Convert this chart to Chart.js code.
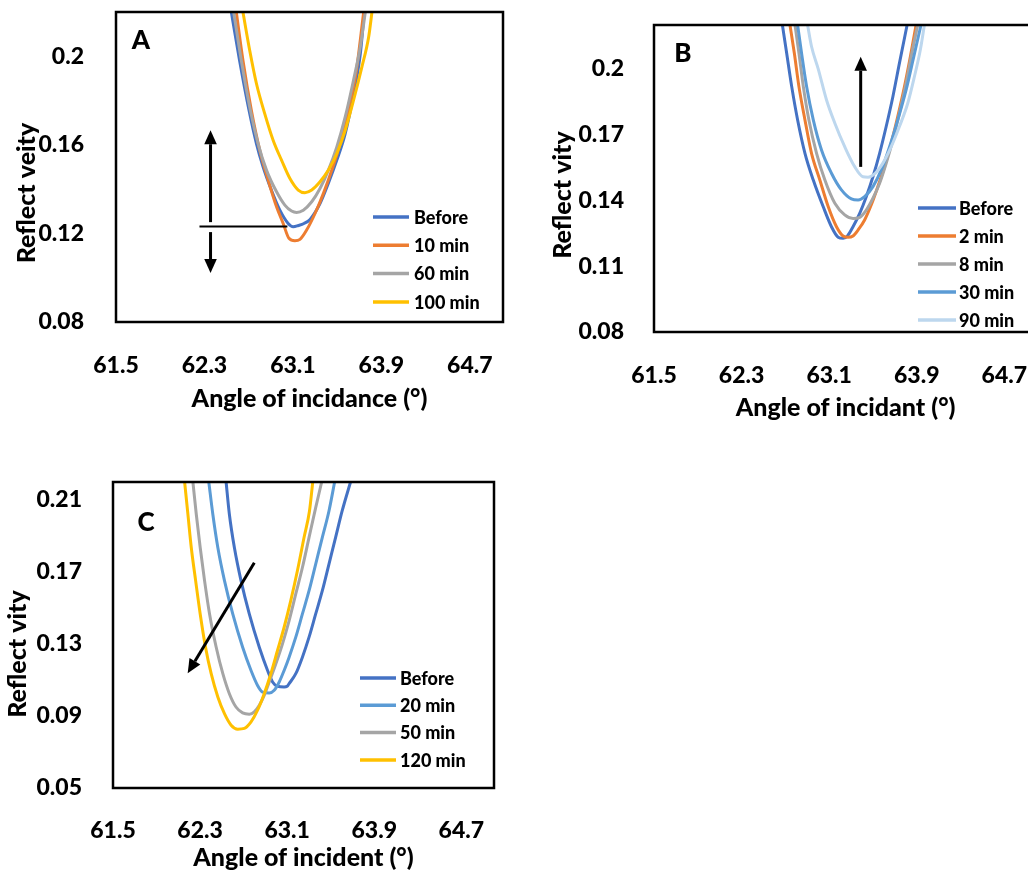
<!DOCTYPE html>
<html>
<head>
<meta charset="utf-8">
<title>Reflectivity vs angle</title>
<script src="https://cdn.jsdelivr.net/npm/chart.js@4.4.1/dist/chart.umd.min.js"></script>
<style>
  html, body { margin: 0; padding: 0; background: #fff; overflow: hidden; width: 1028px; height: 873px; }
  canvas { position: absolute; }
  #chartA { left: 0; top: 0; }
  #chartB { left: 540px; top: 0; }
  #chartC { left: 0; top: 460px; }
</style>
</head>
<body>
<canvas id="chartA" width="520" height="430"></canvas>
<canvas id="chartB" width="510" height="440"></canvas>
<canvas id="chartC" width="520" height="413"></canvas>
<script>
// axis ticks
const angleTicks = [61.5, 62.3, 63.1, 63.9, 64.7];
const reflTicksA = [0.08, 0.12, 0.16, 0.2];
const reflTicksB = [0.08, 0.11, 0.14, 0.17, 0.2];
const reflTicksC = [0.05, 0.09, 0.13, 0.17, 0.21];

// series names
const labelsA = ["Before", "10 min", "60 min", "100 min"];
const labelsB = ["Before", "2 min", "8 min", "30 min", "90 min"];
const labelsC = ["Before", "20 min", "50 min", "120 min"];

// [angle (deg), reflectivity]
const A_before = [[62.543,0.22],[62.618,0.198],[62.703,0.1756],[62.77,0.1606],[62.83,0.1501],[62.906,0.1395],[62.982,0.1305],[63.057,0.1245],[63.103,0.123],[63.15,0.1236],[63.2,0.1245],[63.255,0.1263],[63.345,0.1335],[63.42,0.1426],[63.497,0.1531],[63.573,0.1651],[63.65,0.1832],[63.71,0.2012],[63.745,0.22]];
const A_10min = [[62.588,0.22],[62.648,0.1982],[62.724,0.1756],[62.8,0.1576],[62.876,0.1441],[62.952,0.132],[63.012,0.1245],[63.064,0.1178],[63.118,0.1167],[63.164,0.1173],[63.224,0.1215],[63.3,0.129],[63.376,0.1381],[63.452,0.1486],[63.527,0.1606],[63.6,0.1756],[63.67,0.1922],[63.74,0.22]];
const A_60min = [[62.564,0.22],[62.633,0.1982],[62.715,0.1756],[62.785,0.1606],[62.861,0.1486],[62.952,0.1388],[63.027,0.1328],[63.088,0.1301],[63.133,0.1295],[63.194,0.1305],[63.27,0.1343],[63.345,0.1403],[63.421,0.1486],[63.497,0.1591],[63.573,0.1726],[63.648,0.1892],[63.709,0.2042],[63.755,0.22]];
const A_100min = [[62.648,0.22],[62.709,0.2027],[62.77,0.1877],[62.845,0.1741],[62.921,0.1621],[62.997,0.1531],[63.073,0.1448],[63.148,0.1396],[63.209,0.1384],[63.27,0.1396],[63.345,0.1433],[63.421,0.1486],[63.497,0.1561],[63.573,0.1666],[63.648,0.1801],[63.724,0.1952],[63.785,0.2087],[63.815,0.22]];

const B_before = [[62.673,0.22],[62.712,0.2071],[62.758,0.1919],[62.812,0.1767],[62.879,0.1615],[62.955,0.1493],[63.045,0.1372],[63.121,0.128],[63.182,0.1232],[63.227,0.1227],[63.267,0.1238],[63.318,0.128],[63.379,0.1341],[63.439,0.1417],[63.5,0.1508],[63.561,0.1615],[63.621,0.1737],[63.682,0.1873],[63.742,0.2026],[63.812,0.22]];
const B_2min = [[62.742,0.22],[62.782,0.2071],[62.824,0.1919],[62.879,0.1767],[62.939,0.1615],[63.015,0.1493],[63.091,0.1372],[63.167,0.128],[63.227,0.1238],[63.273,0.1232],[63.318,0.1238],[63.364,0.1265],[63.424,0.1311],[63.485,0.138],[63.545,0.1463],[63.606,0.1555],[63.667,0.1661],[63.727,0.1783],[63.788,0.1919],[63.842,0.2056],[63.894,0.22]];
const B_8min = [[62.788,0.22],[62.824,0.2071],[62.864,0.1919],[62.915,0.1767],[62.985,0.1615],[63.061,0.1493],[63.152,0.1387],[63.242,0.1334],[63.318,0.1318],[63.379,0.1323],[63.439,0.1356],[63.5,0.141],[63.561,0.1478],[63.621,0.1569],[63.682,0.1676],[63.742,0.1798],[63.803,0.1935],[63.855,0.2071],[63.909,0.22]];
const B_30min = [[62.812,0.22],[62.848,0.2071],[62.894,0.1919],[62.955,0.1767],[63.03,0.163],[63.121,0.1524],[63.212,0.1448],[63.303,0.1407],[63.364,0.1402],[63.424,0.1417],[63.5,0.1463],[63.576,0.1539],[63.652,0.1645],[63.727,0.1767],[63.803,0.1904],[63.873,0.2056],[63.939,0.22]];
const B_90min = [[62.903,0.22],[62.939,0.2102],[63.0,0.2],[63.076,0.1858],[63.152,0.1752],[63.242,0.1645],[63.333,0.1554],[63.409,0.1508],[63.455,0.1506],[63.515,0.1521],[63.591,0.157],[63.667,0.1645],[63.742,0.1737],[63.818,0.1843],[63.879,0.1965],[63.933,0.2087],[63.97,0.22]];

const C_before = [[62.539,0.22],[62.569,0.2021],[62.615,0.1836],[62.676,0.1652],[62.752,0.1467],[62.844,0.1282],[62.92,0.1153],[62.966,0.1089],[63.011,0.1065],[63.072,0.1061],[63.1,0.1065],[63.118,0.108],[63.179,0.1135],[63.24,0.1227],[63.301,0.1338],[63.362,0.1467],[63.423,0.1596],[63.484,0.1744],[63.545,0.1892],[63.605,0.2039],[63.682,0.22]];
const C_20min = [[62.38,0.22],[62.417,0.2021],[62.463,0.1836],[62.524,0.1652],[62.6,0.1467],[62.691,0.1282],[62.768,0.1153],[62.828,0.107],[62.874,0.1033],[62.935,0.1028],[62.981,0.1043],[63.027,0.1089],[63.072,0.1153],[63.118,0.1227],[63.179,0.1338],[63.24,0.1467],[63.301,0.1596],[63.362,0.1744],[63.423,0.1892],[63.484,0.2039],[63.536,0.22]];
const C_50min = [[62.234,0.22],[62.265,0.2021],[62.301,0.1836],[62.341,0.1652],[62.387,0.1467],[62.448,0.1282],[62.509,0.1135],[62.569,0.1024],[62.63,0.095],[62.691,0.0917],[62.752,0.091],[62.798,0.0923],[62.844,0.096],[62.889,0.1015],[62.935,0.1089],[62.996,0.119],[63.057,0.1301],[63.118,0.143],[63.179,0.1578],[63.24,0.1725],[63.301,0.1892],[63.362,0.2058],[63.417,0.22]];
const C_120min = [[62.158,0.22],[62.188,0.2021],[62.219,0.1836],[62.259,0.1652],[62.301,0.1467],[62.35,0.1282],[62.402,0.1135],[62.463,0.1006],[62.524,0.0913],[62.585,0.0849],[62.646,0.0827],[62.707,0.0831],[62.768,0.0867],[62.828,0.0932],[62.889,0.1024],[62.95,0.1135],[63.011,0.1264],[63.072,0.1393],[63.133,0.1541],[63.194,0.1707],[63.255,0.1892],[63.305,0.2039],[63.335,0.22]];

// arrows in data units: [x1, y1, x2, y2], head at the second point
const arrowsA = [[62.355, 0.1251, 62.355, 0.1666], [62.355, 0.1206, 62.355, 0.1021]];
const markLineA = [62.255, 0.1231, 63.05, 0.1231];
const arrowsB = [[63.388, 0.1553, 63.388, 0.2055]];
const arrowsC = [[62.798, 0.1751, 62.186, 0.1137]];

Chart.defaults.font.family = "Lato, 'Open Sans', sans-serif";
Chart.defaults.font.weight = "900";
Chart.defaults.color = "#000";

function drawArrow(ctx, x1, y1, x2, y2, head) {
    const a = Math.atan2(y2 - y1, x2 - x1);
    const bx = x2 - head * Math.cos(a), by = y2 - head * Math.sin(a);
    const w = head * 0.45;
    ctx.beginPath();
    ctx.moveTo(x1, y1);
    ctx.lineTo(bx, by);
    ctx.stroke();
    ctx.beginPath();
    ctx.moveTo(x2, y2);
    ctx.lineTo(bx + w * Math.sin(a), by - w * Math.cos(a));
    ctx.lineTo(bx - w * Math.sin(a), by + w * Math.cos(a));
    ctx.closePath();
    ctx.fill();
}

// frame, panel letter, y title, arrows and the in-plot legend
const panelDecor = {
    id: "panelDecor",
    afterDraw(chart, args, o) {
        const { ctx, chartArea: ca, scales } = chart;
        const px = v => scales.x.getPixelForValue(v);
        const py = v => scales.y.getPixelForValue(v);
        ctx.save();

        ctx.strokeStyle = "#000";
        ctx.lineWidth = 2.5;
        ctx.strokeRect(ca.left, ca.top, ca.right - ca.left, ca.bottom - ca.top);

        ctx.fillStyle = "#000";
        ctx.textAlign = "center";
        ctx.textBaseline = "middle";
        ctx.font = "900 26px Lato";
        ctx.fillText(o.letter, o.letterPos[0], o.letterPos[1]);

        ctx.save();
        ctx.translate(o.yTitlePos[0], o.yTitlePos[1]);
        ctx.rotate(-Math.PI / 2);
        ctx.font = "900 25px Lato";
        ctx.fillText(o.yTitle, 0, 0);
        ctx.restore();

        ctx.lineWidth = 3;
        (o.arrows || []).forEach(a => drawArrow(ctx, px(a[0]), py(a[1]), px(a[2]), py(a[3]), 14));
        if (o.markLine) {
            const m = o.markLine;
            ctx.lineWidth = 2;
            ctx.beginPath();
            ctx.moveTo(px(m[0]), py(m[1]));
            ctx.lineTo(px(m[2]), py(m[3]));
            ctx.stroke();
        }

        const lg = o.legend;
        ctx.textAlign = "left";
        ctx.font = "900 18px Lato";
        chart.data.datasets.forEach((ds, i) => {
            const y = lg.top + i * lg.step;
            ctx.strokeStyle = ds.borderColor;
            ctx.lineWidth = 3.5;
            ctx.beginPath();
            ctx.moveTo(lg.x1, y);
            ctx.lineTo(lg.x2, y);
            ctx.stroke();
            ctx.fillStyle = "#000";
            ctx.fillText(ds.label, lg.tx, y + 1);
        });
        ctx.restore();
    }
};

function makePanel(id, p) {
    const n = p.series.length;
    new Chart(document.getElementById(id), {
        type: "line",
        data: {
            datasets: p.series.map((pts, i) => ({
                label: p.labels[i],
                data: pts.map(d => ({ x: d[0], y: d[1] })),
                borderColor: p.colors[i],
                backgroundColor: p.colors[i],
                borderWidth: 3,
                pointRadius: 0,
                fill: false,
                cubicInterpolationMode: "monotone",
                order: n - i
            }))
        },
        options: {
            responsive: false,
            animation: false,
            events: [],
            layout: { padding: p.padding },
            plugins: {
                legend: { display: false },
                tooltip: { enabled: false },
                panelDecor: p.decor
            },
            scales: {
                x: {
                    type: "linear",
                    min: 61.5,
                    max: 65,
                    afterBuildTicks: s => { s.ticks = angleTicks.map(v => ({ value: v })); },
                    afterFit: s => { s.height = p.xHeight; },
                    grid: { display: false },
                    border: { display: false },
                    ticks: { padding: p.xTickPad, font: { size: 23 }, callback: v => v.toFixed(1) },
                    title: { display: true, text: p.xTitle, font: { size: 25 }, padding: { top: 0, bottom: p.xTitlePad } }
                },
                y: {
                    min: p.yMin,
                    max: 0.22,
                    afterBuildTicks: s => { s.ticks = p.yTicks.map(v => ({ value: v })); },
                    afterFit: s => { s.width = p.yWidth; s.paddingTop = 0; s.paddingBottom = 0; },
                    grid: { display: false },
                    border: { display: false },
                    ticks: { padding: p.yTickPad, font: { size: 23 }, callback: v => String(v) }
                }
            }
        },
        plugins: [panelDecor]
    });
}

makePanel("chartA", {
    series: [A_before, A_10min, A_60min, A_100min],
    labels: labelsA,
    colors: ["#4472C4", "#ED7D31", "#A5A5A5", "#FFC000"],
    yMin: 0.08, yTicks: reflTicksA,
    padding: { top: 12, right: 17, left: 0, bottom: 0 },
    yWidth: 116, xHeight: 108, xTickPad: 22, yTickPad: 24, xTitlePad: 16,
    xTitle: "Angle of incidance (°)",
    decor: {
        letter: "A", letterPos: [141, 41],
        yTitle: "Reflect veity", yTitlePos: [27, 193],
        arrows: arrowsA, markLine: markLineA,
        legend: { x1: 373, x2: 409, tx: 414, top: 217, step: 28.3 }
    }
});

makePanel("chartB", {
    series: [B_before, B_2min, B_8min, B_30min, B_90min],
    labels: labelsB,
    colors: ["#4472C4", "#ED7D31", "#A5A5A5", "#5B9BD5", "#BDD7EE"],
    yMin: 0.08, yTicks: reflTicksB,
    padding: { top: 25, right: 11, left: 0, bottom: 0 },
    yWidth: 114, xHeight: 108, xTickPad: 22, yTickPad: 22, xTitlePad: 17,
    xTitle: "Angle of incidant (°)",
    decor: {
        letter: "B", letterPos: [143, 54],
        yTitle: "Reflect vity", yTitlePos: [23, 195],
        arrows: arrowsB,
        legend: { x1: 378, x2: 416, tx: 419, top: 208, step: 28 }
    }
});

makePanel("chartC", {
    series: [C_before, C_20min, C_50min, C_120min],
    labels: labelsC,
    colors: ["#4472C4", "#5B9BD5", "#A5A5A5", "#FFC000"],
    yMin: 0.05, yTicks: reflTicksC,
    padding: { top: 22, right: 26, left: 0, bottom: 0 },
    yWidth: 113, xHeight: 85, xTickPad: 21, yTickPad: 23, xTitlePad: 0,
    xTitle: "Angle of incident (°)",
    decor: {
        letter: "C", letterPos: [146, 63],
        yTitle: "Reflect vity", yTitlePos: [18, 194],
        arrows: arrowsC,
        legend: { x1: 360, x2: 396, tx: 400, top: 218, step: 27.3 }
    }
});
</script>
</body>
</html>
